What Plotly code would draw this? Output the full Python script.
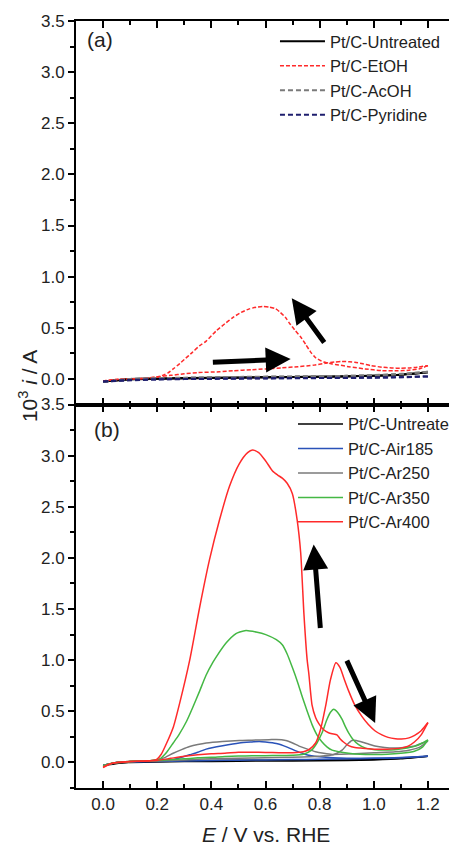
import plotly.graph_objects as go

# ---------------- Panel (a) data : E (V vs. RHE), current (10^3 i / A) ----------------
A_UNT_FWD_E = [0.0, 0.1, 0.3, 0.5, 0.7, 0.9, 1.0, 1.1, 1.2]
A_UNT_FWD_I = [-0.025, -0.005, 0.005, 0.012, 0.018, 0.025, 0.032, 0.042, 0.065]
A_UNT_BWD_E = [1.2, 1.1, 1.0, 0.8, 0.6, 0.4, 0.2, 0.1, 0.0]
A_UNT_BWD_I = [0.065, 0.04, 0.03, 0.022, 0.018, 0.012, 0.005, 0.0, -0.025]

A_ETOH_FWD_E = [0.0, 0.05, 0.1, 0.15, 0.2, 0.25, 0.3, 0.35, 0.43, 0.48, 0.55, 0.6, 0.66, 0.72,
                0.78, 0.82, 0.855, 0.882, 0.91, 0.93, 0.96, 0.99, 1.03, 1.066, 1.1, 1.127, 1.16, 1.2]
A_ETOH_FWD_I = [-0.02, -0.005, 0.0, 0.005, 0.02, 0.035, 0.05, 0.062, 0.07, 0.08, 0.09, 0.098, 0.108, 0.12,
                0.135, 0.153, 0.165, 0.17, 0.168, 0.163, 0.148, 0.13, 0.115, 0.107, 0.105, 0.107, 0.115, 0.13]
A_ETOH_BWD_E = [1.2, 1.17, 1.13, 1.09, 1.03, 0.968, 0.907, 0.87, 0.846, 0.815, 0.784, 0.765, 0.748, 0.73,
                0.711, 0.69, 0.674, 0.655, 0.638, 0.615, 0.589, 0.565, 0.54, 0.51, 0.479, 0.45, 0.418,
                0.381, 0.357, 0.33, 0.3, 0.283, 0.26, 0.24, 0.22, 0.198, 0.15, 0.1, 0.05, 0.0]
A_ETOH_BWD_I = [0.13, 0.1, 0.085, 0.08, 0.081, 0.098, 0.12, 0.137, 0.147, 0.165, 0.21, 0.27, 0.34, 0.41,
                0.47, 0.54, 0.6, 0.65, 0.685, 0.702, 0.708, 0.7, 0.685, 0.65, 0.6, 0.54, 0.47,
                0.37, 0.326, 0.26, 0.19, 0.15, 0.1, 0.06, 0.035, 0.02, 0.005, 0.0, -0.005, -0.02]

A_ACOH_FWD_E = [0.0, 0.1, 0.3, 0.5, 0.7, 0.9, 1.0, 1.1, 1.2]
A_ACOH_FWD_I = [-0.03, -0.005, 0.01, 0.018, 0.022, 0.03, 0.038, 0.05, 0.07]
A_ACOH_BWD_E = [1.2, 1.1, 0.9, 0.7, 0.5, 0.3, 0.1, 0.0]
A_ACOH_BWD_I = [0.07, 0.045, 0.03, 0.025, 0.02, 0.012, 0.0, -0.03]

A_PYR_FWD_E = [0.0, 0.1, 0.3, 0.5, 0.7, 0.9, 1.1, 1.2]
A_PYR_FWD_I = [-0.025, -0.01, 0.0, 0.005, 0.008, 0.012, 0.016, 0.025]
A_PYR_BWD_E = [1.2, 1.0, 0.8, 0.6, 0.4, 0.2, 0.0]
A_PYR_BWD_I = [0.025, 0.012, 0.008, 0.005, 0.0, -0.005, -0.025]

# ---------------- Panel (b) data ----------------
B_UNT_FWD_E = [0.0, 0.05, 0.1, 0.3, 0.5, 0.7, 0.9, 1.0, 1.1, 1.2]
B_UNT_FWD_I = [-0.03, -0.005, 0.0, 0.008, 0.012, 0.015, 0.02, 0.025, 0.035, 0.06]
B_UNT_BWD_E = [1.2, 1.1, 1.0, 0.9, 0.8, 0.6, 0.4, 0.2, 0.1, 0.0]
B_UNT_BWD_I = [0.06, 0.04, 0.03, 0.025, 0.025, 0.022, 0.018, 0.012, 0.005, -0.03]

B_AIR185_FWD_E = [0.0, 0.05, 0.1, 0.2, 0.3, 0.4, 0.5, 0.6, 0.7, 0.8, 0.9, 1.0, 1.1, 1.2]
B_AIR185_FWD_I = [-0.03, 0.0, 0.005, 0.01, 0.015, 0.02, 0.022, 0.025, 0.028, 0.03, 0.035, 0.04, 0.048, 0.06]
B_AIR185_BWD_E = [1.2, 1.1, 1.0, 0.9, 0.85, 0.8, 0.77, 0.74, 0.71, 0.68, 0.64, 0.6, 0.577, 0.55,
                  0.503, 0.442, 0.381, 0.35, 0.32, 0.29, 0.259, 0.2, 0.1, 0.05, 0.0]
B_AIR185_BWD_I = [0.06, 0.045, 0.04, 0.04, 0.045, 0.055, 0.065, 0.085, 0.115, 0.15, 0.185, 0.2, 0.205, 0.2,
                  0.19, 0.163, 0.13, 0.1, 0.075, 0.05, 0.026, 0.015, 0.008, 0.0, -0.03]

B_AR250_FWD_E = [0.0, 0.05, 0.1, 0.2, 0.3, 0.4, 0.5, 0.6, 0.7, 0.8, 0.85, 0.883, 0.9, 0.919, 0.935,
                 0.956, 0.98, 1.004, 1.04, 1.077, 1.11, 1.151, 1.18, 1.2]
B_AR250_FWD_I = [-0.03, 0.0, 0.008, 0.015, 0.025, 0.035, 0.04, 0.045, 0.05, 0.06, 0.075, 0.12, 0.17, 0.215, 0.215,
                 0.2, 0.18, 0.16, 0.145, 0.14, 0.145, 0.16, 0.19, 0.21]
B_AR250_BWD_E = [1.2, 1.17, 1.13, 1.08, 1.0, 0.93, 0.88, 0.846, 0.815, 0.785, 0.755, 0.724, 0.7, 0.675,
                 0.64, 0.613, 0.55, 0.503, 0.44, 0.381, 0.35, 0.32, 0.29, 0.259, 0.23, 0.2, 0.15, 0.1,
                 0.05, 0.0]
B_AR250_BWD_I = [0.21, 0.15, 0.12, 0.105, 0.095, 0.085, 0.08, 0.078, 0.09, 0.105, 0.13, 0.16, 0.19, 0.215,
                 0.225, 0.222, 0.218, 0.215, 0.205, 0.19, 0.175, 0.155, 0.125, 0.09, 0.05, 0.025, 0.015, 0.01,
                 0.0, -0.03]

B_AR350_FWD_E = [0.0, 0.03, 0.06, 0.1, 0.15, 0.2, 0.25, 0.3, 0.35, 0.4, 0.45, 0.5, 0.55, 0.6, 0.65, 0.7,
                 0.74, 0.77, 0.79, 0.809, 0.827, 0.84, 0.852, 0.866, 0.883, 0.895, 0.907, 0.925, 0.944,
                 0.97, 1.004, 1.04, 1.077, 1.11, 1.151, 1.18, 1.2]
B_AR350_FWD_I = [-0.04, -0.01, 0.0, 0.01, 0.015, 0.02, 0.028, 0.035, 0.045, 0.05, 0.058, 0.062, 0.065, 0.066,
                 0.068, 0.07, 0.08, 0.12, 0.19, 0.29, 0.42, 0.49, 0.52, 0.49, 0.42, 0.35, 0.29, 0.22, 0.175,
                 0.14, 0.125, 0.122, 0.124, 0.135, 0.157, 0.19, 0.22]
B_AR350_BWD_E = [1.2, 1.18, 1.15, 1.1, 1.05, 1.0, 0.95, 0.907, 0.87, 0.846, 0.828, 0.809, 0.79, 0.772,
                 0.754, 0.736, 0.718, 0.699, 0.68, 0.662, 0.64, 0.601, 0.565, 0.528, 0.505, 0.491, 0.455,
                 0.42, 0.406, 0.38, 0.357, 0.33, 0.308, 0.28, 0.259, 0.235, 0.21, 0.18, 0.1, 0.05, 0.02, 0.0]
B_AR350_BWD_I = [0.22, 0.15, 0.11, 0.09, 0.08, 0.078, 0.08, 0.09, 0.105, 0.12, 0.15, 0.2, 0.27, 0.37,
                 0.5, 0.64, 0.79, 0.93, 1.06, 1.15, 1.2, 1.25, 1.275, 1.29, 1.275, 1.26, 1.17,
                 1.04, 0.98, 0.85, 0.7, 0.53, 0.4, 0.27, 0.19, 0.1, 0.035, 0.02, 0.01, 0.0, -0.015, -0.035]

B_AR400_FWD_E = [0.0, 0.03, 0.06, 0.1, 0.15, 0.2, 0.25, 0.3, 0.35, 0.4, 0.45, 0.5, 0.55, 0.6, 0.65, 0.7,
                 0.74, 0.76, 0.785, 0.803, 0.822, 0.84, 0.86, 0.875, 0.89, 0.907, 0.93, 0.956, 0.98,
                 1.004, 1.03, 1.053, 1.08, 1.102, 1.13, 1.151, 1.175, 1.2]
B_AR400_FWD_I = [-0.05, -0.01, 0.0, 0.01, 0.015, 0.02, 0.04, 0.06, 0.075, 0.085, 0.09, 0.1, 0.1, 0.098,
                 0.095, 0.095, 0.105, 0.124, 0.19, 0.32, 0.55, 0.81, 0.975, 0.93, 0.82, 0.7, 0.56, 0.45, 0.37,
                 0.31, 0.27, 0.245, 0.232, 0.23, 0.24, 0.265, 0.31, 0.39]
B_AR400_BWD_E = [1.2, 1.175, 1.15, 1.127, 1.1, 1.05, 1.0, 0.95, 0.93, 0.907, 0.888, 0.876, 0.864, 0.846,
                 0.833, 0.815, 0.797, 0.785, 0.772, 0.76, 0.754, 0.742, 0.73, 0.717, 0.699, 0.68, 0.662,
                 0.645, 0.626, 0.6, 0.575, 0.552, 0.534, 0.503, 0.467, 0.43, 0.393, 0.357, 0.32, 0.283,
                 0.26, 0.235, 0.215, 0.198, 0.17, 0.1, 0.05, 0.02, 0.0]
B_AR400_BWD_I = [0.39, 0.27, 0.2, 0.16, 0.14, 0.13, 0.13, 0.14, 0.145, 0.165, 0.2, 0.23, 0.27, 0.28,
                 0.29, 0.32, 0.38, 0.44, 0.56, 0.87, 1.0, 1.45, 2.05, 2.37, 2.63, 2.73, 2.78,
                 2.81, 2.85, 2.95, 3.03, 3.055, 3.03, 2.92, 2.7, 2.37, 1.98, 1.52, 1.0, 0.58,
                 0.35, 0.19, 0.08, 0.03, 0.015, 0.01, 0.0, -0.02, -0.045]

# Arrow annotations: (tail E, tail I, head E, head I)
A_ARROWS = [(0.40, 0.163, 0.693, 0.195), (0.821, 0.342, 0.697, 0.79)]
B_ARROWS = [(0.803, 1.30, 0.778, 2.13), (0.898, 1.01, 1.005, 0.385)]

FONT = "Liberation Sans, Arial, sans-serif"
RED = "#ff2a2a"
GREEN = "#44b844"
BLUE = "#2a52b8"
GRAY = "#7a7a7a"
NAVY = "#1e1e6e"

fig = go.Figure()


def add_series(name, fwd_e, fwd_i, bwd_e, bwd_i, color, dash, xa, ya, legend, width=1.5):
    for k, (e, i) in enumerate([(fwd_e, fwd_i), (bwd_e, bwd_i)]):
        fig.add_trace(go.Scatter(
            x=e, y=i, mode="lines", name=name, legendgroup=name + legend,
            showlegend=(k == 0), legend=legend, xaxis=xa, yaxis=ya,
            line=dict(color=color, width=width, dash=dash, shape="spline", smoothing=0.6),
            hoverinfo="skip"))


# Panel (a)
add_series("Pt/C-Untreated", A_UNT_FWD_E, A_UNT_FWD_I, A_UNT_BWD_E, A_UNT_BWD_I, "black", "solid", "x", "y", "legend", 2)
add_series("Pt/C-EtOH", A_ETOH_FWD_E, A_ETOH_FWD_I, A_ETOH_BWD_E, A_ETOH_BWD_I, RED, "4px,2px", "x", "y", "legend")
add_series("Pt/C-AcOH", A_ACOH_FWD_E, A_ACOH_FWD_I, A_ACOH_BWD_E, A_ACOH_BWD_I, GRAY, "5px,3px", "x", "y", "legend", 2)
add_series("Pt/C-Pyridine", A_PYR_FWD_E, A_PYR_FWD_I, A_PYR_BWD_E, A_PYR_BWD_I, NAVY, "5px,3px", "x", "y", "legend", 2)

# Panel (b)
add_series("Pt/C-Untreated", B_UNT_FWD_E, B_UNT_FWD_I, B_UNT_BWD_E, B_UNT_BWD_I, "black", "solid", "x2", "y2", "legend2")
add_series("Pt/C-Air185", B_AIR185_FWD_E, B_AIR185_FWD_I, B_AIR185_BWD_E, B_AIR185_BWD_I, BLUE, "solid", "x2", "y2", "legend2")
add_series("Pt/C-Ar250", B_AR250_FWD_E, B_AR250_FWD_I, B_AR250_BWD_E, B_AR250_BWD_I, GRAY, "solid", "x2", "y2", "legend2")
add_series("Pt/C-Ar350", B_AR350_FWD_E, B_AR350_FWD_I, B_AR350_BWD_E, B_AR350_BWD_I, GREEN, "solid", "x2", "y2", "legend2")
add_series("Pt/C-Ar400", B_AR400_FWD_E, B_AR400_FWD_I, B_AR400_BWD_E, B_AR400_BWD_I, RED, "solid", "x2", "y2", "legend2")

XRANGE = [-0.1, 1.3]
YRANGE = [-0.25, 3.5]
TICKFONT = dict(family=FONT, size=17, color="#222")

xcommon = dict(range=XRANGE, tick0=0, dtick=0.2, ticks="inside", ticklen=7, tickwidth=1.5,
               tickcolor="black", showline=True, linewidth=2, linecolor="black", mirror="ticks",
               showgrid=False, zeroline=False, tickformat=".1f", tickfont=TICKFONT,
               minor=dict(dtick=0.1, tick0=0, ticks="inside", ticklen=4, tickwidth=1.5, tickcolor="black"))
yleft = dict(range=YRANGE, tick0=0, dtick=0.5, ticks="outside", ticklen=6, tickwidth=1.5,
             tickcolor="black", showline=True, linewidth=2, linecolor="black",
             showgrid=False, zeroline=False, tickformat=".1f", tickfont=TICKFONT,
             minor=dict(dtick=0.25, tick0=0, ticks="outside", ticklen=4, tickwidth=1.5, tickcolor="black"))
yright = dict(range=YRANGE, tick0=0, dtick=0.5, ticks="inside", ticklen=6, tickwidth=1.5,
              tickcolor="black", showline=True, linewidth=2, linecolor="black", side="right",
              showgrid=False, zeroline=False, showticklabels=False,
              minor=dict(dtick=0.25, tick0=0, ticks="inside", ticklen=4, tickwidth=1.5, tickcolor="black"))

DOM_A = [0.5, 1.0]
DOM_B = [0.0, 0.5]
LEGFONT = dict(family=FONT, size=16.5, color="#222")

# The page body has an 8px margin, so the figure is laid out 8px up/left of the target.
fig.update_layout(
    width=457, height=848,
    margin=dict(l=68, r=10, t=13, b=68, autoexpand=False),
    plot_bgcolor="white", paper_bgcolor="white",
    font=dict(family=FONT, color="#222"),
    xaxis=dict(xcommon, anchor="y", showticklabels=False),
    yaxis=dict(yleft, domain=DOM_A, anchor="x"),
    xaxis2=dict(xcommon, anchor="y2"),
    yaxis2=dict(yleft, domain=DOM_B, anchor="x2"),
    yaxis3=dict(yright, domain=DOM_A, anchor="x", overlaying="y"),
    yaxis4=dict(yright, domain=DOM_B, anchor="x2", overlaying="y2"),
    legend=dict(x=0.525, y=0.996, xanchor="left", yanchor="top", bgcolor="rgba(0,0,0,0)",
                font=LEGFONT, itemwidth=45, tracegroupgap=0),
    legend2=dict(x=0.5726, y=0.497, xanchor="left", yanchor="top", bgcolor="rgba(0,0,0,0)",
                 font=LEGFONT, itemwidth=45, tracegroupgap=0),
    showlegend=True,
)

annotations = []
for (te, ti, he, hi) in A_ARROWS:
    annotations.append(dict(x=he, y=hi, ax=te, ay=ti, xref="x", yref="y", axref="x", ayref="y",
                            showarrow=True, arrowhead=2, arrowsize=1.0, arrowwidth=5,
                            arrowcolor="black", text="", standoff=0))
for (te, ti, he, hi) in B_ARROWS:
    annotations.append(dict(x=he, y=hi, ax=te, ay=ti, xref="x2", yref="y2", axref="x2", ayref="y2",
                            showarrow=True, arrowhead=2, arrowsize=1.0, arrowwidth=5,
                            arrowcolor="black", text="", standoff=0))
annotations += [
    dict(text="(a)", x=-0.068, y=3.32, xref="x", yref="y", xanchor="left", yanchor="middle",
         showarrow=False, font=dict(family=FONT, size=21, color="#222")),
    dict(text="(b)", x=-0.04, y=3.26, xref="x2", yref="y2", xanchor="left", yanchor="middle",
         showarrow=False, font=dict(family=FONT, size=21, color="#222")),
    dict(text="10<sup>3</sup> <i>i</i> / A", x=-0.1266, y=0.524, xref="paper", yref="paper",
         textangle=-90, xanchor="center", yanchor="middle", showarrow=False,
         font=dict(family=FONT, size=21, color="#222")),
    dict(text="<i>E</i> / V vs. RHE", x=0.5, y=-0.06, xref="paper", yref="paper",
         xanchor="center", yanchor="middle", showarrow=False,
         font=dict(family=FONT, size=21, color="#222")),
]
fig.update_layout(annotations=annotations)

fig.write_html("out.html")
